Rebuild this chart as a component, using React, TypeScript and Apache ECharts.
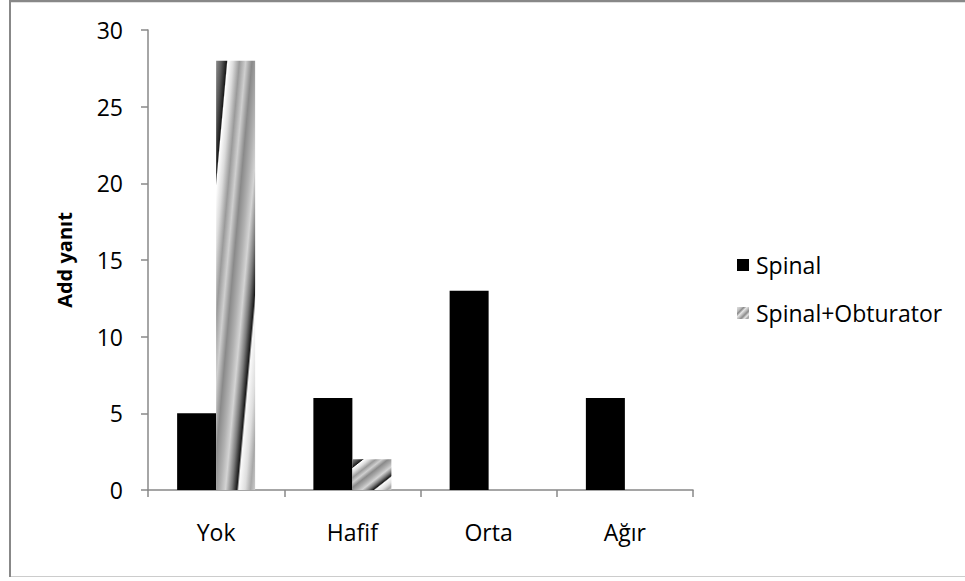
import React, { useEffect, useRef } from "react";
import * as echarts from "echarts";

const categories = ["Yok", "Hafif", "Orta", "Ağır"];
const spinal = [5, 6, 13, 6];
const spinalObturator = [28, 2, 0, 0];
const seriesNames = ["Spinal", "Spinal+Obturator"];
const yAxisTitle = "Add yanıt";

// Diagonal striped texture, stretched over each bar's bounding box
const stripeFill = new echarts.graphic.LinearGradient(0, 0, 1, 1, [
  { offset: 0, color: "#8c8c8c" },
  { offset: 0.07, color: "#5a5a5a" },
  { offset: 0.135, color: "#1a1a1a" },
  { offset: 0.15, color: "#ffffff" },
  { offset: 0.22, color: "#dcdcdc" },
  { offset: 0.3, color: "#9a9a9a" },
  { offset: 0.38, color: "#cfcfcf" },
  { offset: 0.46, color: "#8a8a8a" },
  { offset: 0.55, color: "#b0b0b0" },
  { offset: 0.62, color: "#d4d4d4" },
  { offset: 0.7, color: "#7a7a7a" },
  { offset: 0.765, color: "#1a1a1a" },
  { offset: 0.79, color: "#fafafa" },
  { offset: 0.87, color: "#dedede" },
  { offset: 0.94, color: "#a8a8a8" },
  { offset: 1, color: "#cccccc" },
]);

// Softer version of the stripes for the small legend swatch
const stripeSwatch = new echarts.graphic.LinearGradient(0, 0, 1, 1, [
  { offset: 0, color: "#e0e0e0" },
  { offset: 0.2, color: "#bdbdbd" },
  { offset: 0.3, color: "#8a8a8a" },
  { offset: 0.42, color: "#e6e6e6" },
  { offset: 0.55, color: "#b5b5b5" },
  { offset: 0.65, color: "#8a8a8a" },
  { offset: 0.78, color: "#e6e6e6" },
  { offset: 0.9, color: "#a0a0a0" },
  { offset: 1, color: "#d0d0d0" },
]);

const FONT = "'Open Sans', 'Noto Sans', sans-serif";

export default function App() {
  const ref = useRef<HTMLDivElement>(null);

  useEffect(() => {
    if (!ref.current) return;
    const chart = echarts.init(ref.current, null, { renderer: "svg" });
    chart.setOption({
      animation: false,
      backgroundColor: "#ffffff",
      textStyle: { fontFamily: FONT },
      graphic: [
        { type: "line", shape: { x1: 9, y1: 1, x2: 965, y2: 1 }, style: { stroke: "#888888", lineWidth: 2.5 } },
        { type: "line", shape: { x1: 10, y1: 0, x2: 10, y2: 577 }, style: { stroke: "#888888", lineWidth: 2 } },
        { type: "line", shape: { x1: 11, y1: 576.5, x2: 965, y2: 576.5 }, style: { stroke: "#cccccc", lineWidth: 1 } },
      ],
      grid: { left: 148, top: 30, right: 272, bottom: 91 },
      legend: {
        orient: "vertical",
        left: 732,
        top: 248,
        itemWidth: 12,
        itemHeight: 12,
        itemGap: 24,
        icon: "rect",
        data: [
          { name: seriesNames[0] },
          { name: seriesNames[1], itemStyle: { color: stripeSwatch } },
        ],
        textStyle: {
          fontFamily: FONT,
          fontSize: 23,
          lineHeight: 24,
          color: "#000",
          padding: [0, 0, 0, 2],
        },
      },
      xAxis: {
        type: "category",
        data: categories,
        axisLine: { lineStyle: { color: "#888888", width: 1.5 } },
        axisTick: { show: true, length: 7, lineStyle: { color: "#888888", width: 1.5 } },
        axisLabel: { fontFamily: FONT, fontSize: 23, lineHeight: 24, color: "#000", margin: 30 },
      },
      yAxis: {
        type: "value",
        min: 0,
        max: 30,
        interval: 5,
        name: yAxisTitle,
        nameLocation: "middle",
        nameRotate: 90,
        nameGap: 74,
        nameTextStyle: { fontFamily: FONT, fontSize: 20, fontWeight: "bold", color: "#000" },
        axisLine: { show: true, lineStyle: { color: "#888888", width: 1.5 } },
        axisTick: { show: true, length: 7, lineStyle: { color: "#888888", width: 1.5 } },
        splitLine: { show: false },
        axisLabel: { fontFamily: FONT, fontSize: 23, color: "#000", margin: 25 },
      },
      series: [
        {
          name: seriesNames[0],
          type: "bar",
          data: spinal,
          barWidth: 39,
          barGap: "0%",
          itemStyle: { color: "#000000" },
        },
        {
          name: seriesNames[1],
          type: "bar",
          data: spinalObturator,
          barWidth: 39,
          barGap: "0%",
          itemStyle: { color: stripeFill },
        },
      ],
    });
    return () => chart.dispose();
  }, []);

  return (
    <div
      ref={ref}
      style={{ position: "absolute", left: 0, top: 0, width: 965, height: 581 }}
    />
  );
}
